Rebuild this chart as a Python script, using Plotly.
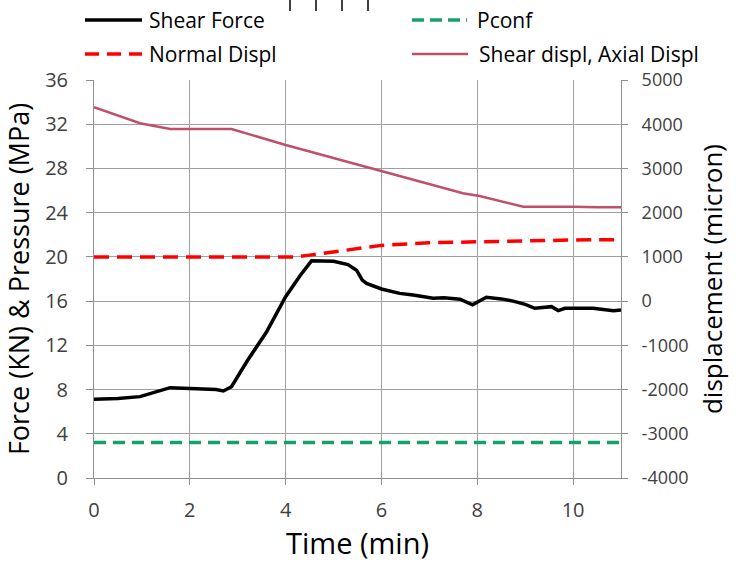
import plotly.graph_objects as go

# ---- data ----
time_force = [0, 0.5, 0.96, 1.3, 1.59, 2.0, 2.35, 2.55, 2.70, 2.87, 3.2, 3.6, 4.0, 4.3,
              4.54, 5.0, 5.3, 5.48, 5.6, 5.69, 6.0, 6.38, 6.66, 7.08, 7.3, 7.64, 7.9,
              8.05, 8.19, 8.5, 8.75, 9.0, 9.2, 9.55, 9.69, 9.83, 10.42, 10.84, 11.0]
shear_force = [7.12, 7.2, 7.36, 7.8, 8.17, 8.1, 8.02, 8.0, 7.87, 8.26, 10.6, 13.2, 16.4, 18.3,
               19.64, 19.6, 19.3, 18.8, 17.9, 17.6, 17.1, 16.7, 16.56, 16.26, 16.3, 16.17, 15.66,
               16.0, 16.35, 16.2, 16.0, 15.7, 15.35, 15.5, 15.14, 15.35, 15.35, 15.14, 15.2]

time_pconf = [0, 2, 4, 6, 8, 10, 11]
pconf = [3.2, 3.2, 3.2, 3.2, 3.2, 3.2, 3.2]

time_normal = [0, 2, 4.2, 4.5, 4.78, 5.5, 6.0, 7.0, 8.0, 9.0, 10.0, 11.0]
normal_displ = [1000, 1000, 1000, 1040, 1081, 1190, 1260, 1320, 1345, 1370, 1382, 1390]

time_shear = [0, 0.96, 1.59, 2.87, 4.0, 6.0, 7.7, 8.05, 8.96, 10.0, 10.5, 11.0]
shear_displ = [4383, 4021, 3892, 3892, 3530, 2949, 2438, 2377, 2135, 2135, 2120, 2125]

x_ticks = [0, 2, 4, 6, 8, 10]
left_ticks = [0, 4, 8, 12, 16, 20, 24, 28, 32, 36]
right_ticks = [-4000, -3000, -2000, -1000, 0, 1000, 2000, 3000, 4000, 5000]
right_tick_labels = ["-4000", "-3000", "-2000", "-1000", "0", "1000", "2000", "3000", "4000", "5000"]

names = ["Shear Force", "Pconf", "Normal Displ", "Shear displ, Axial Displ"]
colors = ["#000000", "#1a9e6a", "#ff0000", "#c0506a"]

FONT = "Open Sans"
W, H = 741, 563
ML, MR, MT, MB = 94, 120, 80, 85
PW, PH = W - ML - MR, H - MT - MB


def px(xp):
    return (xp - ML) / PW


def py(yp):
    return (H - MB - yp) / PH


fig = go.Figure()
fig.add_trace(go.Scatter(x=time_pconf, y=pconf, mode="lines", name=names[1],
                         line=dict(color=colors[1], width=3.5, dash="12px,7px"), showlegend=False))
fig.add_trace(go.Scatter(x=time_normal, y=normal_displ, mode="lines", name=names[2], yaxis="y2",
                         line=dict(color=colors[2], width=3.5, dash="15px,8px"), showlegend=False))
fig.add_trace(go.Scatter(x=time_shear, y=shear_displ, mode="lines", name=names[3], yaxis="y2",
                         line=dict(color=colors[3], width=2.5), showlegend=False))
fig.add_trace(go.Scatter(x=time_force, y=shear_force, mode="lines", name=names[0],
                         line=dict(color=colors[0], width=3.5), showlegend=False))

# ---- manual legend (two columns, two rows) ----
legend_items = [
    (names[0], colors[0], "solid", 85, 142, 147, 20),
    (names[1], colors[1], "dash", 412, 467, 475, 20),
    (names[2], colors[2], "dash", 85, 142, 147, 54),
    (names[3], colors[3], "solid", 412, 468, 477, 54),
]
shapes = []
annotations = []
for name, col, dash, x0, x1, xt, yc in legend_items:
    shapes.append(dict(type="line", xref="paper", yref="paper", x0=px(x0), x1=px(x1),
                       y0=py(yc), y1=py(yc),
                       line=dict(color=col, width=3.5 if col != colors[3] else 2.5,
                                 dash="solid" if dash == "solid" else ("12px,6px" if col == colors[1] else "14px,8px"))))
    annotations.append(dict(text=name, xref="paper", yref="paper", x=px(xt), y=py(yc),
                            xanchor="left", yanchor="middle", showarrow=False,
                            font=dict(family=FONT, size=21, color="#000000")))

# small marks at the top edge of the reference image
for xm in [290, 316, 342, 368]:
    shapes.append(dict(type="line", xref="paper", yref="paper", x0=px(xm), x1=px(xm),
                       y0=py(0), y1=py(11), line=dict(color="#000000", width=1.5)))

fig.update_layout(
    width=W, height=H,
    margin=dict(l=ML, r=MR, t=MT, b=MB),
    paper_bgcolor="white", plot_bgcolor="white",
    font=dict(family=FONT, color="#404040"),
    showlegend=False,
    xaxis=dict(range=[0, 11], tickvals=x_ticks, showgrid=True, gridcolor="#a0a0a0", gridwidth=1,
               showline=True, linecolor="#909090", linewidth=1, ticks="outside", ticklen=6,
               tickcolor="#909090", tickfont=dict(size=20, color="#404040"), zeroline=False,
               ticklabelstandoff=8,
               title=dict(text="Time (min)", font=dict(size=29, color="#000000"), standoff=6)),
    yaxis=dict(range=[0, 36], tickvals=left_ticks, showgrid=True, gridcolor="#a0a0a0", gridwidth=1,
               showline=True, linecolor="#909090", linewidth=1, ticks="outside", ticklen=7,
               tickcolor="#909090", tickfont=dict(size=20, color="#404040"), zeroline=False,
               ticklabelstandoff=14,
               title=dict(text="Force (KN) & Pressure (MPa)", font=dict(size=27, color="#000000"), standoff=8)),
    yaxis2=dict(range=[-4000, 5000], tickvals=right_ticks, ticktext=right_tick_labels,
                overlaying="y", side="right",
                showgrid=False, showline=True, linecolor="#909090", linewidth=1, ticks="outside",
                ticklen=6, tickcolor="#909090", tickfont=dict(size=18, color="#404040"), zeroline=False,
                ticklabelstandoff=10,
                title=dict(text="displacement (micron)", font=dict(size=26, color="#000000"), standoff=16)),
    shapes=shapes,
    annotations=annotations,
)

fig.write_html("out.html")
